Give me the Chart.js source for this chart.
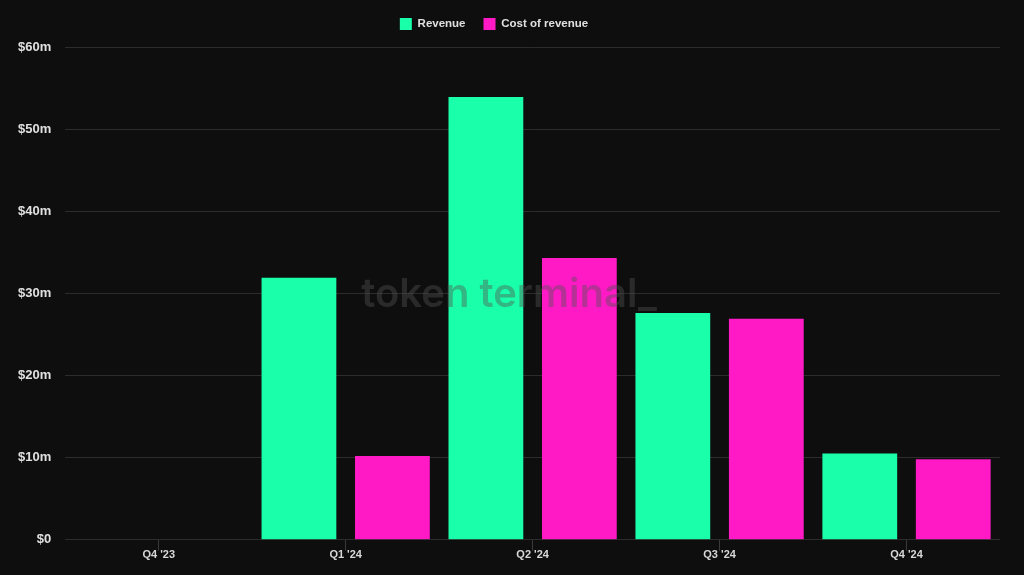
<!DOCTYPE html>
<html>
<head>
<meta charset="utf-8">
<script src="https://cdn.jsdelivr.net/npm/chart.js@4"></script>
<style>
html,body{margin:0;padding:0;background:#0f0e0f;}
#wrap{width:1024px;height:575px;position:relative;}
</style>
</head>
<body>
<div id="wrap"><canvas id="c" width="1024" height="575"></canvas></div>
<script>
const categories = ["Q4 '23", "Q1 '24", "Q2 '24", "Q3 '24", "Q4 '24"];
const revenue = [null, 31.9, 53.9, 27.6, 10.5];
const costOfRevenue = [null, 10.2, 34.3, 26.9, 9.8];
const seriesNames = ["Revenue", "Cost of revenue"];
const yTickValues = [0, 10, 20, 30, 40, 50, 60];

const FONT = "'Liberation Sans', Arial, sans-serif";

const watermark = {
  id: 'watermark',
  afterDatasetsDraw(chart) {
    const ctx = chart.ctx;
    ctx.save();
    ctx.font = "600 40px Inter, " + FONT;
    ctx.fillStyle = "rgba(80,80,80,0.42)";
    ctx.textAlign = "center";
    ctx.textBaseline = "middle";
    ctx.fillText("token terminal_", 509, 295);
    ctx.restore();
  }
};
const bg = {
  id: 'bg',
  beforeDraw(chart) {
    const ctx = chart.ctx;
    ctx.save();
    ctx.fillStyle = "#0f0e0f";
    ctx.fillRect(0, 0, chart.width, chart.height);
    ctx.restore();
  }
};
const legendTweak = {
  id: 'legendTweak',
  beforeInit(chart) {
    const lg = chart.legend;
    if (lg) {
      const orig = lg.fit;
      lg.fit = function () { orig.call(this); this.height += 7; };
    }
  },
  afterLayout(chart) {
    const lg = chart.legend;
    if (lg) {
      lg.left -= 8; lg.right -= 8;
    }
  }
};

new Chart(document.getElementById('c'), {
  type: 'bar',
  data: {
    labels: categories,
    datasets: [
      { label: seriesNames[0], data: revenue, backgroundColor: '#1affaa', borderWidth: 0 },
      { label: seriesNames[1], data: costOfRevenue, backgroundColor: '#ff1ac6', borderWidth: 0 }
    ]
  },
  options: {
    responsive: false,
    animation: false,
    devicePixelRatio: 1,
    layout: { padding: { top: 0, right: 24, bottom: 15, left: 4 } },
    datasets: { bar: { categoryPercentage: 1.0, barPercentage: 0.8 } },
    plugins: {
      legend: {
        position: 'top',
        labels: {
          color: '#e0e0e0',
          font: { family: FONT, size: 11.5, weight: 'bold' },
          boxWidth: 12, boxHeight: 12, padding: 18
        }
      },
      tooltip: { enabled: false }
    },
    scales: {
      x: {
        grid: { display: true, drawOnChartArea: false, drawTicks: true, tickLength: 11, color: '#3a3a3a', offset: false },
        border: { display: false },
        ticks: { color: '#d8d8d8', font: { family: FONT, size: 11, weight: 'bold' }, padding: -2 }
      },
      y: {
        min: 0, max: 60,
        afterBuildTicks: axis => { axis.ticks = yTickValues.map(v => ({ value: v })); },
        grid: { color: '#2c2c2c', drawTicks: false, lineWidth: 1 },
        border: { display: false },
        ticks: {
          padding: 14,
          color: '#e0e0e0', font: { family: FONT, size: 13, weight: 'bold' },
          callback: v => v === 0 ? '$0' : '$' + v + 'm'
        }
      }
    }
  },
  plugins: [bg, legendTweak, watermark]
});
</script>
</body>
</html>
